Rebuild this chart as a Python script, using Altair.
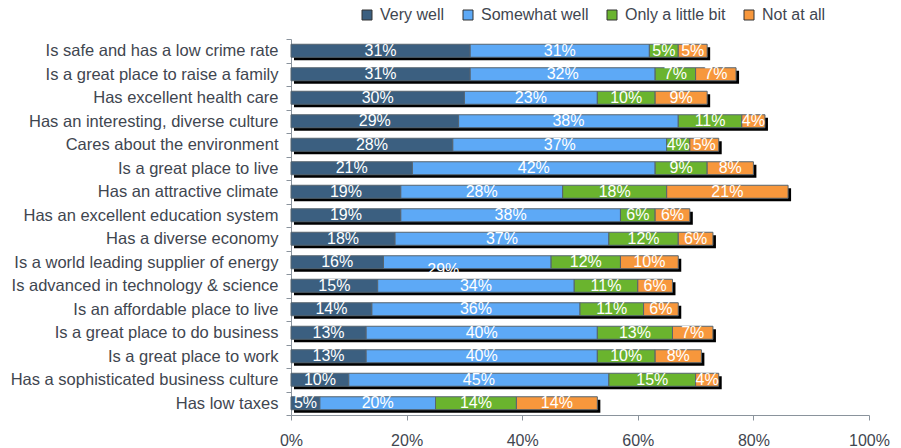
import altair as alt
import pandas as pd

categories = [
    "Is safe and has a low crime rate",
    "Is a great place to raise a family",
    "Has excellent health care",
    "Has an interesting, diverse culture",
    "Cares about the environment",
    "Is a great place to live",
    "Has an attractive climate",
    "Has an excellent education system",
    "Has a diverse economy",
    "Is a world leading supplier of energy",
    "Is advanced in technology & science",
    "Is an affordable place to live",
    "Is a great place to do business",
    "Is a great place to work",
    "Has a sophisticated business culture",
    "Has low taxes",
]
series = ["Very well", "Somewhat well", "Only a little bit", "Not at all"]
very_well = [31, 31, 30, 29, 28, 21, 19, 19, 18, 16, 15, 14, 13, 13, 10, 5]
somewhat_well = [31, 32, 23, 38, 37, 42, 28, 38, 37, 29, 34, 36, 40, 40, 45, 20]
only_little = [5, 7, 10, 11, 4, 9, 18, 6, 12, 12, 11, 11, 13, 10, 15, 14]
not_at_all = [5, 7, 9, 4, 5, 8, 21, 6, 6, 10, 6, 6, 7, 8, 4, 14]
colors = ["#3B5F80", "#5DA9F6", "#6AB42E", "#F7973C"]
x_ticks = [0, 0.2, 0.4, 0.6, 0.8, 1.0]

rows = []
totals = []
for i, cat in enumerate(categories):
    vals = [very_well[i], somewhat_well[i], only_little[i], not_at_all[i]]
    start = 0
    for s, v in zip(series, vals):
        rows.append({
            "cat": cat, "series": s, "start": start / 100,
            "end": (start + v) / 100, "mid": (start + v / 2) / 100,
            "label": f"{v}%",
            "odd": (cat == "Is a world leading supplier of energy" and s == "Somewhat well"),
        })
        start += v
    totals.append({"cat": cat, "zero": 0, "total": start / 100})

df = pd.DataFrame(rows)
tdf = pd.DataFrame(totals)

FONT = "Liberation Sans"
TXT = "#3F4650"
AXC = "#8A939C"

yenc = alt.Y("cat:N", sort=categories,
             scale=alt.Scale(paddingInner=0.0, paddingOuter=0.0),
             axis=alt.Axis(title=None, tickBand="extent", labelFontSize=16.5, labelFont=FONT,
                           labelColor=TXT, labelLimit=400, tickSize=5, labelPadding=8,
                           domainColor=AXC, tickColor=AXC, labelFontWeight="normal"))
xscale = alt.Scale(domain=[0, 1], nice=False)
xaxis = alt.Axis(title=None, format=".0%", values=x_ticks, labelFontSize=16, labelFont=FONT,
                 labelColor=TXT, labelFlush=False, tickSize=5, labelPadding=12,
                 domainColor=AXC, tickColor=AXC, grid=False)

shadow = alt.Chart(tdf).mark_bar(color="black", size=13, xOffset=3, x2Offset=3,
                                 yOffset=3, y2Offset=3).encode(
    x=alt.X("zero:Q", scale=xscale, axis=xaxis),
    x2="total:Q",
    y=yenc,
)

bars = alt.Chart(df).mark_bar(size=13, stroke="#56646F", strokeWidth=1).encode(
    x=alt.X("start:Q", scale=xscale, axis=xaxis),
    x2="end:Q",
    y=yenc,
    color=alt.Color("series:N", sort=series,
                    scale=alt.Scale(domain=series, range=colors),
                    legend=alt.Legend(title=None, orient="none", direction="horizontal",
                                      legendX=68, legendY=-32, padding=0,
                                      symbolType="square", symbolSize=100,
                                      symbolStrokeColor="#333333", symbolStrokeWidth=1,
                                      symbolOpacity=1, labelFontSize=16, labelFont=FONT,
                                      labelColor=TXT, labelOffset=5, columnPadding=15,
                                      labelLimit=300)),
)

labels = alt.Chart(df).transform_filter("!datum.odd").mark_text(
    color="white", fontSize=16, font=FONT, baseline="middle", align="center").encode(
    x=alt.X("mid:Q", scale=xscale),
    y=alt.Y("cat:N", sort=categories),
    text="label:N",
)
odd_label = alt.Chart(df).transform_filter("datum.odd").mark_text(
    color="white", fontSize=16, font=FONT, baseline="middle", align="center",
    dx=-24, dy=8).encode(
    x=alt.X("mid:Q", scale=xscale),
    y=alt.Y("cat:N", sort=categories),
    text="label:N",
)

chart = alt.layer(shadow, bars, labels, odd_label).properties(
    width=578, height=376,
    autosize=alt.AutoSizeParams(type="none"),
    padding={"left": 291, "top": 39, "right": 32, "bottom": 33},
).configure_view(stroke=None).configure_axis(grid=False)

chart.save("out.html", embed_options={"renderer": "svg", "actions": False})
